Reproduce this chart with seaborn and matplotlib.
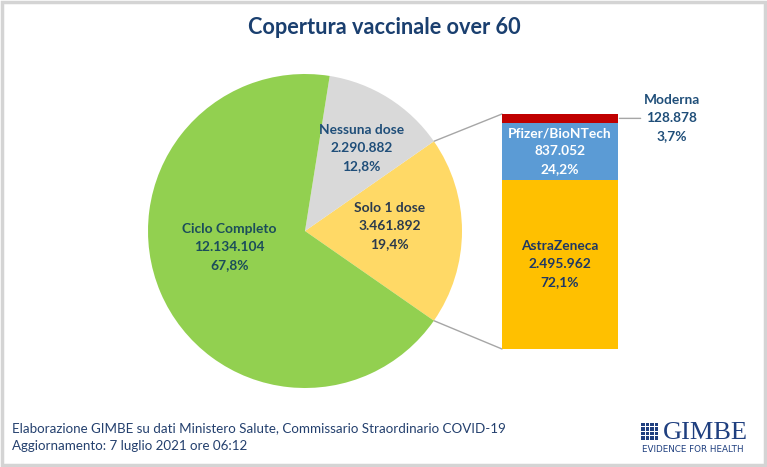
import numpy as np
import matplotlib
matplotlib.use("Agg")
import matplotlib.pyplot as plt
import seaborn as sns
from matplotlib.patches import Rectangle, ConnectionPatch

# pie: vaccination status of over 60
pie_labels = ["Solo 1 dose", "Nessuna dose", "Ciclo Completo"]
pie_values = [3461892, 2290882, 12134104]
pie_colors = ["#FFD966", "#D9D9D9", "#92D050"]
pie_text_colors = ["#2b3a4d", "#1F4E79", "#1b4d5a"]

# bar: vaccine brand of the single-dose people
bar_labels = ["AstraZeneca", "Pfizer/BioNTech", "Moderna"]
bar_values = [2495962, 837052, 128878]
bar_colors = ["#FFC000", "#5B9BD5", "#C00000"]
bar_text_colors = ["#1F3864", "white", "#1F4E79"]

title = "Copertura vaccinale over 60"
footer = ["Elaborazione GIMBE su dati Ministero Salute, Commissario Straordinario COVID-19",
          "Aggiornamento: 7 luglio 2021 ore 06:12"]


def num(v):
    return f"{v:,}".replace(",", ".")


def pct(v, tot):
    return f"{v / tot * 100:.1f}".replace(".", ",") + "%"


sns.set_theme(style="white")
plt.rcParams['font.family'] = ['Lato', 'DejaVu Sans']

W, H = 767, 467
fig = plt.figure(figsize=(W / 100, H / 100), dpi=100)
fig.patch.set_facecolor("white")

# background axes in pixel coords (border, logo)
bg = fig.add_axes([0, 0, 1, 1], zorder=0)
bg.set_xlim(0, W)
bg.set_ylim(H, 0)
bg.axis("off")
bg.add_patch(Rectangle((1.5, 1.5), W - 4, H - 4, fill=False, ec="#d4d4d4", lw=2.5))

LFS = 9.9
LSP = 1.6

# pie
cx, cy, r = 305, 231, 157
axp = fig.add_axes([(cx - r) / W, (H - cy - r) / H, 2 * r / W, 2 * r / H], zorder=1)
tot = sum(pie_values)
start = -pie_values[0] / tot * 360 / 2
axp.pie(pie_values, colors=pie_colors, startangle=start, counterclock=True,
        wedgeprops=dict(linewidth=0))
axp.set_xlim(-1, 1)
axp.set_ylim(-1, 1)
axp.set_aspect("equal")
axp.axis("off")
pie_label_pos = [(0.54, 0.03), (0.36, 0.53), (-0.48, -0.10)]
for lab, v, c, (px, py) in zip(pie_labels, pie_values, pie_text_colors, pie_label_pos):
    axp.text(px, py, f"{lab}\n{num(v)}\n{pct(v, tot)}", ha="center", va="center",
             color=c, fontsize=LFS, fontweight="bold", linespacing=LSP)

# stacked bar (seaborn, drawn as overlapping cumulative bars)
bx0, bx1, by0, by1 = 502, 618, 114, 349
axb = fig.add_axes([bx0 / W, (H - by1) / H, (bx1 - bx0) / W, (by1 - by0) / H], zorder=1)
cum = np.cumsum(bar_values)
for i in range(len(bar_values) - 1, -1, -1):
    sns.barplot(x=[0], y=[cum[i]], color=bar_colors[i], saturation=1, width=1,
                linewidth=0, ax=axb)
btot = cum[-1]
axb.set_xlim(-0.5, 0.5)
axb.set_ylim(0, btot)
axb.axis("off")
for i in range(2):
    mid = cum[i] - bar_values[i] / 2
    axb.text(0, mid, f"{bar_labels[i]}\n{num(bar_values[i])}\n{pct(bar_values[i], btot)}",
             ha="center", va="center", color=bar_text_colors[i], fontsize=LFS,
             fontweight="bold", linespacing=LSP)
mid = cum[2] - bar_values[2] / 2
axb.annotate(f"{bar_labels[2]}\n{num(bar_values[2])}\n{pct(bar_values[2], btot)}",
             xy=(0.5, mid), xytext=(54, 0), textcoords="offset pixels",
             ha="center", va="center", color=bar_text_colors[2], fontsize=LFS,
             fontweight="bold", linespacing=LSP, annotation_clip=False,
             arrowprops=dict(arrowstyle="-", color="#a6a6a6", lw=1, shrinkA=0, shrinkB=1))

# connectors between the split wedge and the bar
a = np.deg2rad(pie_values[0] / tot * 360 / 2)
for sgn, yb in [(1, btot), (-1, 0)]:
    con = ConnectionPatch(xyA=(np.cos(a), sgn * np.sin(a)), coordsA=axp.transData,
                          xyB=(-0.5, yb), coordsB=axb.transData,
                          color="#a6a6a6", lw=1)
    fig.add_artist(con)

fig.text(384 / W, 1 - 28 / H, title, ha="center", va="center", fontsize=15.7,
         fontweight="bold", color="#1A3F6F")

fig.text(12 / W, 1 - 428 / H, footer[0], ha="left", va="center", fontsize=9.6, color="#24406e")
fig.text(12 / W, 1 - 446 / H, footer[1], ha="left", va="center", fontsize=9.6, color="#24406e")

# GIMBE logo
logo_c = "#1F3F7F"
for i in range(4):
    for j in range(4):
        bg.add_patch(Rectangle((641 + i * 4.6, 423 + j * 4.4), 3.6, 3.4, color=logo_c, lw=0))
bg.text(705, 433, "GIMBE", ha="center", va="center", fontsize=19, color=logo_c,
        family="Liberation Serif")
bg.text(693, 450, "EVIDENCE FOR HEALTH", ha="center", va="center", fontsize=6.3,
        color=logo_c, family="DejaVu Sans")

fig.savefig("out.png", dpi=100)
